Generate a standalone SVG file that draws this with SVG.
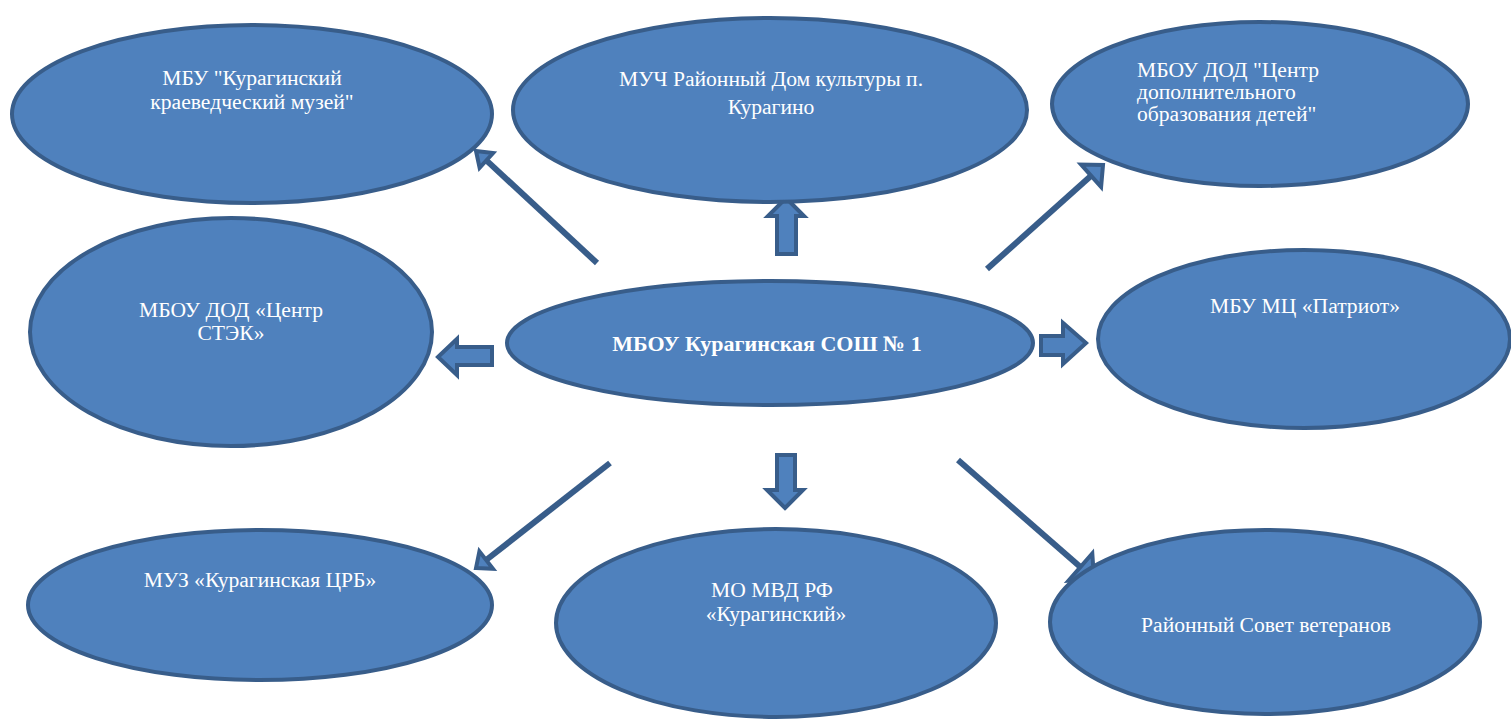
<svg xmlns="http://www.w3.org/2000/svg" width="1511" height="720" viewBox="0 0 1511 720">
<style>
.n ellipse{fill:#4f81bd;stroke:#385d8a;stroke-width:4}
.n text{fill:#ffffff;font-family:"Liberation Serif","Times New Roman",serif;font-size:21.6px}
.c{text-anchor:middle}
.ln{stroke:#385d8a;stroke-width:6;fill:none}
.hd{fill:#4f81bd;stroke:#385d8a;stroke-width:4;stroke-linejoin:miter}
.blk{fill:#4f81bd;stroke:#385d8a;stroke-width:4;stroke-linejoin:miter}
</style>
<rect width="1511" height="720" fill="#ffffff"/>
<g id="connectors">
<line class="ln" x1="597" y1="263" x2="486.4" y2="160.4"/>
<polygon class="hd" points="476,151 493.1,153 479.6,167.8"/>
<line class="ln" x1="987" y1="269" x2="1091.1" y2="175.7"/>
<polygon class="hd" points="1103,165 1101.1,186.9 1081.1,164.5"/>
<line class="ln" x1="610" y1="463" x2="486.2" y2="560"/>
<polygon class="hd" points="476,568 493,568.7 479.4,551.3"/>
<line class="ln" x1="958" y1="460" x2="1080.4" y2="567.1"/>
<polygon class="hd" points="1094,579 1068.5,580.7 1092.3,553.5"/>
<polygon class="blk" points="786,198 804,216 796,216 796,254 777,254 777,216 768,216"/>
<polygon class="blk" points="785,508 803,490 795,490 795,455 777,455 777,490 767,490"/>
<polygon class="blk" points="438,357 457,339 457,347 492,347 492,365 457,365 457,375"/>
<polygon class="blk" points="1086,343 1063,323 1063,336 1041,336 1041,355 1063,355 1063,364"/>
</g>
<g id="node-center" class="n">
<ellipse cx="770" cy="343" rx="263" ry="62"/>
<text class="c" x="767" y="351" style="font-weight:bold;font-size:22px">МБОУ Курагинская СОШ № 1</text>
</g>
<g id="node-museum" class="n">
<ellipse cx="252" cy="114" rx="240" ry="89"/>
<text class="c" x="252" y="85">МБУ "Курагинский</text>
<text class="c" x="252" y="109">краеведческий музей"</text>
</g>
<g id="node-culture" class="n">
<ellipse cx="770" cy="110" rx="257" ry="92"/>
<text class="c" x="771" y="86">МУЧ Районный Дом культуры п.</text>
<text class="c" x="771" y="114">Курагино</text>
</g>
<g id="node-dod" class="n">
<ellipse cx="1260" cy="104" rx="208" ry="82"/>
<text x="1137" y="77">МБОУ ДОД "Центр</text>
<text x="1137" y="99">дополнительного</text>
<text x="1137" y="121">образования детей"</text>
</g>
<g id="node-stek" class="n">
<ellipse cx="231" cy="332" rx="201" ry="114"/>
<text class="c" x="231" y="317">МБОУ ДОД «Центр</text>
<text class="c" x="231" y="340">СТЭК»</text>
</g>
<g id="node-patriot" class="n">
<ellipse cx="1304" cy="339" rx="206" ry="89"/>
<text class="c" x="1305" y="313">МБУ МЦ «Патриот»</text>
</g>
<g id="node-crb" class="n">
<ellipse cx="260" cy="605" rx="232" ry="75"/>
<text class="c" x="260" y="587">МУЗ «Курагинская ЦРБ»</text>
</g>
<g id="node-mvd" class="n">
<ellipse cx="776" cy="623" rx="220" ry="94"/>
<text class="c" x="772" y="597">МО МВД РФ</text>
<text class="c" x="776" y="621">«Курагинский»</text>
</g>
<g id="node-veterans" class="n">
<ellipse cx="1265" cy="622" rx="215" ry="92"/>
<text class="c" x="1266" y="632">Районный Совет ветеранов</text>
</g>
</svg>
